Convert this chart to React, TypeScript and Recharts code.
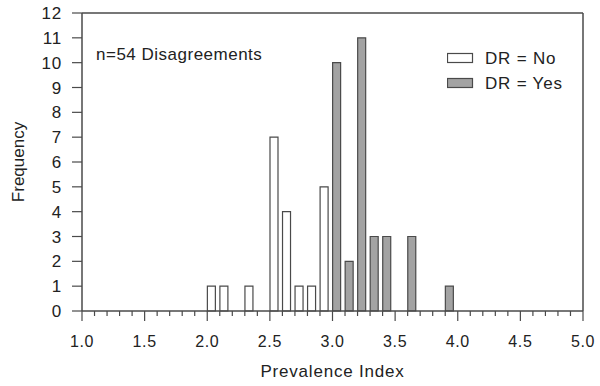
import React from 'react';
import { ComposedChart, Bar, XAxis, YAxis, Legend, Label } from 'recharts';

// histogram bins (left edge of each 0.1-wide bin) and counts
const noBins = [2.0, 2.1, 2.3, 2.5, 2.6, 2.7, 2.8, 2.9];
const noCounts = [1, 1, 1, 7, 4, 1, 1, 5];
const yesBins = [3.0, 3.1, 3.2, 3.3, 3.4, 3.6, 3.9];
const yesCounts = [10, 2, 11, 3, 3, 3, 1];

const majorTicks = [1.0, 1.5, 2.0, 2.5, 3.0, 3.5, 4.0, 4.5, 5.0];
const yTicks = [0, 1, 2, 3, 4, 5, 6, 7, 8, 9, 10, 11, 12];

// minor ticks every 0.1 between majors
const xTicks: number[] = [];
for (let i = 10; i <= 50; i++) xTicks.push(i / 10);

// bars sit in the left part of each bin
const BAR_SHIFT = 0.035;

const data = [
  ...noBins.map((b, i) => ({ x: b + BAR_SHIFT, no: noCounts[i] })),
  ...yesBins.map((b, i) => ({ x: b + BAR_SHIFT, yes: yesCounts[i] })),
];

const FONT = '"Liberation Sans", Arial, sans-serif';
const INK = '#222';
const LINE = '#4a4a4a';

const XTick = (props: any) => {
  const { x, y, payload } = props;
  const v = payload.value;
  const major = majorTicks.some((m) => Math.abs(m - v) < 1e-6);
  return (
    <g>
      <line x1={x} x2={x} y1={y} y2={y + (major ? 10 : 5)} stroke={LINE} strokeWidth={1.2} />
      {major && (
        <text x={x} y={y + 36} textAnchor="middle" fontSize={16} letterSpacing={0.6} fontFamily={FONT} fill={INK}>
          {v.toFixed(1)}
        </text>
      )}
    </g>
  );
};

const LegendBox = (props: any) => {
  const items = props.payload || [];
  return (
    <svg width={150} height={50}>
      {items.map((it: any, i: number) => (
        <g key={i}>
          <rect x={0.5} y={5.5 + i * 25} width={25} height={9} fill={it.payload?.fill ?? it.color} stroke={LINE} strokeWidth={1.2} />
          <text x={38} y={15.5 + i * 25} fontSize={17} letterSpacing={0.8} fontFamily={FONT} fill={INK}>
            {it.value}
          </text>
        </g>
      ))}
    </svg>
  );
};

export default function App() {
  return (
    <div style={{ position: 'absolute', left: 0, top: 0, width: 600, height: 386, background: '#fff' }}>
      <ComposedChart width={600} height={386} data={data} margin={{ top: 12, right: 16, bottom: 74, left: 81 }}>
        <XAxis
          dataKey="x"
          type="number"
          domain={[1, 5]}
          ticks={xTicks}
          interval={0}
          tick={<XTick />}
          tickLine={false}
          tickSize={0}
          tickMargin={0}
          height={1}
          axisLine={{ stroke: LINE, strokeWidth: 1.5 }}
        >
          <Label
            content={(p: any) => (
              <text
                x={p.viewBox.x + p.viewBox.width / 2}
                y={p.viewBox.y + 66}
                textAnchor="middle"
                fontSize={17}
                letterSpacing={0.8}
                fontFamily={FONT}
                fill={INK}
              >
                Prevalence Index
              </text>
            )}
          />
        </XAxis>
        <XAxis
          xAxisId="top"
          orientation="top"
          type="number"
          domain={[1, 5]}
          tick={false}
          tickLine={false}
          height={1}
          axisLine={{ stroke: LINE, strokeWidth: 1.5 }}
        />
        <YAxis
          type="number"
          domain={[0, 12]}
          ticks={yTicks}
          interval={0}
          width={1}
          tickSize={10}
          tickMargin={10}
          tick={{ fontSize: 17, letterSpacing: 0.8, fontFamily: FONT, fill: INK }}
          tickLine={{ stroke: LINE, strokeWidth: 1.2 }}
          axisLine={{ stroke: LINE, strokeWidth: 1.5 }}
        >
          <Label
            content={(p: any) => {
              const cx = p.viewBox.x - 63;
              const cy = p.viewBox.y + p.viewBox.height / 2;
              return (
                <text
                  x={cx}
                  y={cy}
                  transform={`rotate(-90 ${cx} ${cy})`}
                  textAnchor="middle"
                  dominantBaseline="central"
                  fontSize={17}
                  fontFamily={FONT}
                  fill={INK}
                >
                  Frequency
                </text>
              );
            }}
          />
        </YAxis>
        <YAxis
          yAxisId="right"
          orientation="right"
          domain={[0, 12]}
          width={1}
          tick={false}
          tickLine={false}
          axisLine={{ stroke: LINE, strokeWidth: 1.5 }}
        />
        <Legend
          layout="vertical"
          align="center"
          verticalAlign="middle"
          wrapperStyle={{ left: 447, top: 48, width: 150, height: 50 }}
          content={<LegendBox />}
        />
        <Bar dataKey="no" name="DR = No" stackId="h" barSize={8} fill="#fff" stroke={LINE} strokeWidth={1.2} isAnimationActive={false} />
        <Bar dataKey="yes" name="DR = Yes" stackId="h" barSize={8} fill="#a3a3a3" stroke={LINE} strokeWidth={1.2} isAnimationActive={false} />
      </ComposedChart>
      <div
        style={{
          position: 'absolute',
          left: 96,
          top: 45,
          fontFamily: FONT,
          fontSize: 17,
          letterSpacing: 0.5,
          color: INK,
          lineHeight: '20px',
          whiteSpace: 'nowrap',
        }}
      >
        n=54 Disagreements
      </div>
    </div>
  );
}
